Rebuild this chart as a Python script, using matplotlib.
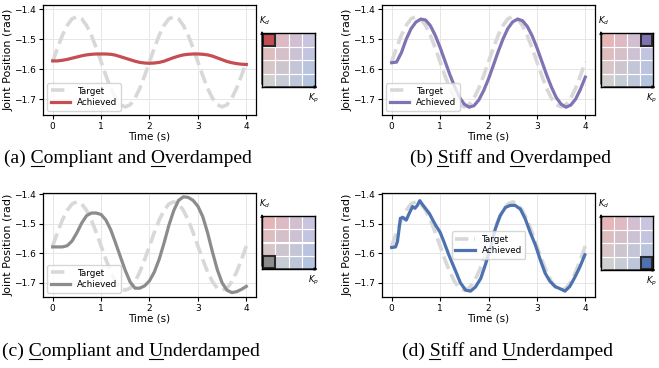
import numpy as np
import matplotlib.pyplot as plt
import matplotlib.colors as mc
from matplotlib.patches import Rectangle
from matplotlib.lines import Line2D

# time samples (s)
time_s = np.round(np.arange(41) * 0.1, 1)

# reference trajectory shown dashed in every panel
target = [-1.575, -1.529, -1.487, -1.454, -1.432, -1.425, -1.432, -1.454, -1.487, -1.529,
          -1.575, -1.621, -1.663, -1.696, -1.718, -1.725, -1.718, -1.696, -1.663, -1.621,
          -1.575, -1.529, -1.487, -1.454, -1.432, -1.425, -1.432, -1.454, -1.487, -1.529,
          -1.575, -1.621, -1.663, -1.696, -1.718, -1.725, -1.718, -1.696, -1.663, -1.621,
          -1.575]

# achieved joint positions
achieved_a = [-1.572, -1.572, -1.570, -1.567, -1.563, -1.559, -1.555, -1.552, -1.550, -1.549,
              -1.549, -1.549, -1.550, -1.553, -1.558, -1.563, -1.568, -1.573, -1.577, -1.579,
              -1.580, -1.579, -1.577, -1.573, -1.567, -1.561, -1.556, -1.552, -1.550, -1.549,
              -1.549, -1.550, -1.552, -1.556, -1.562, -1.568, -1.574, -1.578, -1.581, -1.583,
              -1.584]
achieved_b = [-1.578, -1.576, -1.545, -1.500, -1.465, -1.443, -1.433, -1.436, -1.455, -1.487,
              -1.527, -1.572, -1.617, -1.658, -1.693, -1.716, -1.726, -1.721, -1.702, -1.671,
              -1.632, -1.587, -1.541, -1.499, -1.464, -1.442, -1.433, -1.438, -1.457, -1.488,
              -1.528, -1.573, -1.618, -1.659, -1.694, -1.716, -1.726, -1.719, -1.699, -1.666,
              -1.626]
achieved_c = [-1.578, -1.578, -1.578, -1.574, -1.558, -1.530, -1.497, -1.472, -1.463, -1.463,
              -1.468, -1.487, -1.520, -1.565, -1.612, -1.658, -1.697, -1.718, -1.718, -1.710,
              -1.693, -1.663, -1.620, -1.565, -1.505, -1.455, -1.420, -1.408, -1.410, -1.420,
              -1.440, -1.475, -1.530, -1.595, -1.655, -1.700, -1.725, -1.733, -1.730, -1.722,
              -1.712]
time_d = [0.0, 0.08, 0.12, 0.18, 0.23, 0.3, 0.36, 0.43, 0.48, 0.53, 0.58, 0.64, 0.78, 0.85,
          0.91, 1.0, 1.08, 1.18, 1.32, 1.42, 1.53, 1.63, 1.73, 1.84, 1.94, 2.04, 2.14, 2.24,
          2.35, 2.45, 2.55, 2.66, 2.76, 2.86, 2.97, 3.07, 3.17, 3.27, 3.38, 3.48, 3.58, 3.68,
          3.79, 3.89, 3.99]
achieved_d = [-1.58, -1.578, -1.559, -1.481, -1.478, -1.487, -1.465, -1.441, -1.447, -1.437,
              -1.421, -1.435, -1.465, -1.487, -1.505, -1.528, -1.561, -1.605, -1.66, -1.70,
              -1.725, -1.728, -1.714, -1.685, -1.636, -1.583, -1.517, -1.472, -1.444, -1.437,
              -1.437, -1.45, -1.483, -1.528, -1.572, -1.622, -1.667, -1.695, -1.713, -1.72,
              -1.728, -1.712, -1.679, -1.645, -1.605]

captions = [("(a) ", "C", "ompliant and ", "O", "verdamped"),
            ("(b) ", "S", "tiff and ", "O", "verdamped"),
            ("(c) ", "C", "ompliant and ", "U", "nderdamped"),
            ("(d) ", "S", "tiff and ", "U", "nderdamped")]

# gain grid corner colours
corner_colors = {"gray": "#8c8c8c", "blue": "#4c72b0", "red": "#c44e52", "purple": "#8172b3"}
highlight = [(0, 3), (3, 3), (0, 0), (3, 0)]   # (Kp index, Kd index)
line_colors = ["red", "purple", "gray", "blue"]
legend_locs = ["lower left", "lower left", "lower left", "center"]

W, H = 659, 368
fig = plt.figure(figsize=(W / 100, H / 100), dpi=100)

# pixel boxes (left, top, right, bottom)
main_boxes = [(43, 5, 256, 115), (382, 5, 595, 115), (43, 193, 256, 297), (382, 193, 595, 297)]
gain_boxes = [(262, 33, 315, 87), (601, 33, 653, 87), (262, 216, 315, 269), (601, 216, 653, 270)]
ylims = [(-1.752, -1.386), (-1.752, -1.386), (-1.748, -1.395), (-1.748, -1.395)]
caption_pos = [(128, 163), (510, 163), (131, 356), (507, 356)]


def frac_box(b):
    l, t, r, btm = b
    return [l / W, 1 - btm / H, (r - l) / W, (btm - t) / H]


def to_rgb(name):
    return np.array(mc.to_rgb(corner_colors[name]))


def cell_color(i, j):
    u, v = i / 3, j / 3
    return ((1 - u) * (1 - v) * to_rgb("gray") + u * (1 - v) * to_rgb("blue")
            + (1 - u) * v * to_rgb("red") + u * v * to_rgb("purple"))


series = [(time_s, achieved_a), (time_s, achieved_b), (time_s, achieved_c), (time_d, achieved_d)]

for k in range(4):
    ax = fig.add_axes(frac_box(main_boxes[k]))
    ax.plot(time_s, target, color="#d8d8d8", lw=2.6, ls="--", label="Target")
    t, y = series[k]
    ax.plot(t, y, color=corner_colors[line_colors[k]], lw=2.3, label="Achieved")
    ax.set_xlim(-0.2, 4.2)
    ax.set_ylim(*ylims[k])
    ax.set_xticks([0, 1, 2, 3, 4])
    ax.set_yticks([-1.7, -1.6, -1.5, -1.4])
    ax.tick_params(labelsize=6.5, length=3, width=0.8, pad=2)
    ax.grid(True, color="#e6e6e6", lw=0.7)
    ax.set_axisbelow(True)
    ax.set_xlabel("Time (s)", fontsize=7.5, labelpad=0.5)
    ax.set_ylabel("Joint Position (rad)", fontsize=8, labelpad=0.5)
    for s in ax.spines.values():
        s.set_linewidth(0.9)
    ax.legend(loc=legend_locs[k], fontsize=6.3, handlelength=2.2, borderpad=0.4,
              labelspacing=0.3, framealpha=0.8)

    # gain grid inset
    gx = fig.add_axes(frac_box(gain_boxes[k]))
    for i in range(4):
        for j in range(4):
            faded = 1 - 0.42 * (1 - cell_color(i, j))
            gx.add_patch(Rectangle((i, j), 1, 1, facecolor=faded, edgecolor="white", lw=0.8))
    hi, hj = highlight[k]
    gx.add_patch(Rectangle((hi + 0.04, hj + 0.04), 0.92, 0.92, facecolor=cell_color(hi, hj),
                           edgecolor="#2a2a2a", lw=1.5))
    gx.set_xlim(0, 4)
    gx.set_ylim(0, 4)
    gx.set_xticks([])
    gx.set_yticks([])
    for s in gx.spines.values():
        s.set_linewidth(1.0)
    gx.annotate("", xy=(0, 1.09), xytext=(0, 0), xycoords="axes fraction",
                arrowprops=dict(arrowstyle="-|>", color="black", lw=0.8, mutation_scale=4),
                annotation_clip=False)
    gx.annotate("", xy=(1.1, 0), xytext=(0, 0), xycoords="axes fraction",
                arrowprops=dict(arrowstyle="-|>", color="black", lw=0.8, mutation_scale=4),
                annotation_clip=False)
    gx.text(0.05, 1.23, "$K_d$", transform=gx.transAxes, fontsize=6, ha="center", va="center")
    gx.text(0.98, -0.22, "$K_p$", transform=gx.transAxes, fontsize=6, ha="center", va="center")

# captions with underlined initials
renderer = fig.canvas.get_renderer()
cap_font = dict(family="Liberation Serif", size=14)


def text_width(s):
    t = fig.text(0, 0, s, **cap_font)
    w = t.get_window_extent(renderer).width
    t.remove()
    return w


for k, parts in enumerate(captions):
    full = "".join(parts)
    cx, cy = caption_pos[k]
    fig.text(cx / W, 1 - cy / H, full, ha="center", va="baseline", **cap_font)
    left = cx - text_width(full) / 2
    for idx in (1, 3):
        x0 = left + text_width("".join(parts[:idx]))
        x1 = left + text_width("".join(parts[:idx + 1]))
        fig.add_artist(Line2D([x0 / W, x1 / W], [1 - (cy + 2.5) / H] * 2, color="black",
                              lw=0.8, transform=fig.transFigure))

fig.savefig("out.png", dpi=100)
